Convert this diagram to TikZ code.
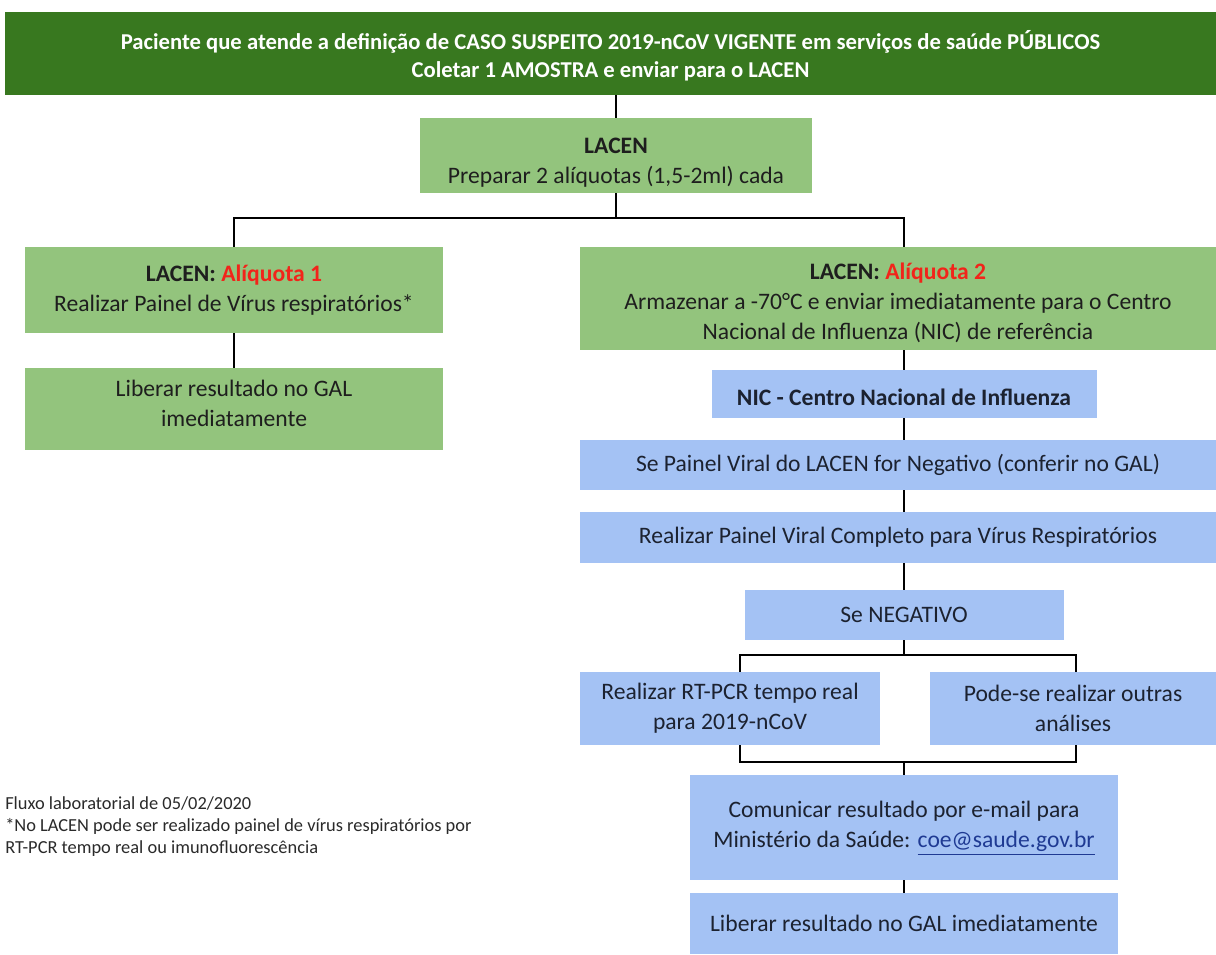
\documentclass[tikz,border=0pt]{standalone}
\usepackage{fontspec}
\setmainfont{Carlito}
\definecolor{dgreen}{HTML}{38781F}
\definecolor{lgreen}{HTML}{93C47D}
\definecolor{lblue}{HTML}{A4C2F4}
\definecolor{txtg}{HTML}{1E1E1E}
\definecolor{txtb}{HTML}{1C2230}
\definecolor{aliq}{HTML}{F2241A}
\definecolor{link}{HTML}{1F3A93}
\definecolor{foot}{HTML}{2A2A2A}
\begin{document}
\begin{tikzpicture}[x=0.75pt,y=-0.75pt,
  box/.style={draw=none, inner sep=0pt, align=center, font=\fontsize{17.7}{22.5}\selectfont},
  gbox/.style={box, fill=lgreen, text=txtg},
  bbox/.style={box, fill=lblue, text=txtb},
  txt/.style={inner sep=0pt, align=center, font=\fontsize{17.7}{22.5}\selectfont},
  conn/.style={draw=black, line width=1pt},
  sz/.style 2 args={minimum width=#1*0.75pt, minimum height=#2*0.75pt}]
\useasboundingbox (0,0) rectangle (1216,954);
\clip (0,0) rectangle (1216,954);
\fill[white] (0,0) rectangle (1216,954);

\node[box, fill=dgreen, sz={1211}{83}] (top) at (610.5,53.5) {};
\node[txt, text=white, font=\bfseries\fontsize{17}{21}\selectfont] (topt) at (610.5,55.5)
  {Paciente que atende a definição de CASO SUSPEITO 2019-nCoV VIGENTE em serviços de saúde PÚBLICOS\\Coletar 1 AMOSTRA e enviar para o LACEN};
\node[gbox, sz={392}{75}] (lacen) at (616,155.5) {};
\node[txt, text=txtg] (lacent) at (616,163) {\textbf{LACEN}\\Preparar 2 alíquotas (1,5-2ml) cada};
\node[gbox, sz={418}{86}] (a1) at (234,290) {\textbf{LACEN: \textcolor{aliq}{Alíquota 1}}\\Realizar Painel de Vírus respiratórios*};
\node[gbox, sz={418}{82}] (lib1) at (234,409) {};
\node[txt, text=txtg] (lib1t) at (234,403) {Liberar resultado no GAL\\imediatamente};
\node[gbox, sz={636}{103}] (a2) at (898,298.5) {};
\node[txt, text=txtg] (a2t) at (898,303) {\textbf{LACEN: \textcolor{aliq}{Alíquota 2}}\\Armazenar a -70°C e enviar imediatamente para o Centro\\Nacional de Influenza (NIC) de referência};
\node[bbox, sz={385}{48}] (nic) at (904,394) {};
\node[txt, text=txtb] (nict) at (904,397) {\textbf{NIC - Centro Nacional de Influenza}};
\node[bbox, sz={636}{50}] (sp) at (898,465) {Se Painel Viral do LACEN for Negativo (conferir no GAL)};
\node[bbox, sz={636}{51}] (rp) at (898,537.5) {Realizar Painel Viral Completo para Vírus Respiratórios};
\node[bbox, sz={319}{50}] (neg) at (904,615) {Se NEGATIVO};
\node[bbox, sz={300}{73}] (rt) at (730,708.5) {Realizar RT-PCR tempo real\\para 2019-nCoV};
\node[bbox, sz={286}{73}] (pode) at (1073,708.5) {Pode-se realizar outras\\análises};
\node[bbox, sz={428}{105}] (com) at (904,827.5) {};
\node[txt, text=txtb] (comt) at (904,828) {Comunicar resultado por e-mail para\\Ministério da Saúde: \textcolor{link}{\underline{coe@saude.gov.br}}};
\node[bbox, sz={428}{61}] (lib2) at (904,923.5) {Liberar resultado no GAL imediatamente};

\coordinate (j1) at (616,218);
\draw[conn] (lacen.north) -- (lacen.north |- top.south);
\draw[conn] (lacen.south) -- (j1);
\draw[conn] (a1.north) |- (j1) -| (a2.north -| nic.north);
\draw[conn] (a1.south) -- (lib1.north);
\draw[conn] (a2.south -| nic.north) -- (nic.north);
\draw[conn] (nic.south) -- (nic.south |- sp.north);
\draw[conn] (sp.south -| nic.south) -- (rp.north -| nic.south);
\draw[conn] (rp.south -| neg.north) -- (neg.north);
\coordinate (j2) at (904,655);
\coordinate (l2) at (740,655);
\coordinate (r2) at (1076,655);
\draw[conn] (neg.south) -- (j2);
\draw[conn] (rt.north -| l2) -- (l2) -- (r2) -- (pode.north -| r2);
\coordinate (l3) at (740,762);
\coordinate (r3) at (1076,762);
\coordinate (j3) at (904,762);
\draw[conn] (rt.south -| l3) -- (l3) -- (r3) -- (pode.south -| r3);
\draw[conn] (j3) -- (com.north);
\draw[conn] (com.south) -- (lib2.north);

\node[anchor=north west, align=left, inner sep=0pt, text=foot, font=\fontsize{13.8}{16.5}\selectfont] (foot) at (5,796)
  {Fluxo laboratorial de 05/02/2020\\*No LACEN pode ser realizado painel de vírus respiratórios por\\RT-PCR tempo real ou imunofluorescência};
\end{tikzpicture}
\end{document}
